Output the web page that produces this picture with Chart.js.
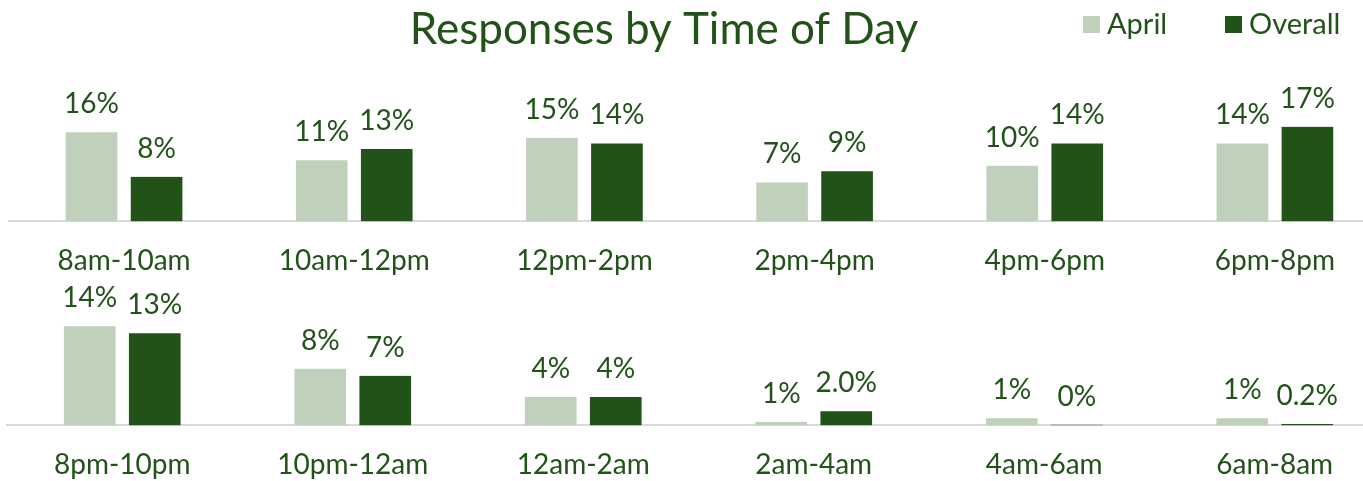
<!DOCTYPE html>
<html><head><meta charset="utf-8">
<script src="https://cdn.jsdelivr.net/npm/chart.js@4.4.0/dist/chart.umd.min.js"></script>
<style>
html,body{margin:0;padding:0;overflow:hidden;background:#fff;width:1363px;height:481px;}
canvas{position:absolute;left:0;}
#c1{top:0;}
#c2{top:285px;}
</style></head><body>
<canvas id="c1" width="1400" height="309" style="width:1400px;height:309px"></canvas>
<canvas id="c2" width="1400" height="221" style="width:1400px;height:221px"></canvas>
<script>
const chartTitle = "Responses by Time of Day";
const seriesNames = ["April", "Overall"];

const dayCategories = ["8am-10am", "10am-12pm", "12pm-2pm", "2pm-4pm", "4pm-6pm", "6pm-8pm"];
const dayApril = [16, 11, 15, 7, 10, 14];
const dayOverall = [8, 13, 14, 9, 14, 17];
const dayAprilLabels = ["16%", "11%", "15%", "7%", "10%", "14%"];
const dayOverallLabels = ["8%", "13%", "14%", "9%", "14%", "17%"];

const nightCategories = ["8pm-10pm", "10pm-12am", "12am-2am", "2am-4am", "4am-6am", "6am-8am"];
const nightApril = [14, 8, 4, 0.5, 1, 1];
const nightOverall = [13, 7, 4, 2.0, 0.1, 0.2];
const nightAprilLabels = ["14%", "8%", "4%", "1%", "1%", "1%"];
const nightOverallLabels = ["13%", "7%", "4%", "2.0%", "0%", "0.2%"];

const LIGHT = "#bfd0bb";
const DARK = "#215218";
const TEXT = "#215218";
const FONT = "Lato, 'Open Sans', sans-serif";

const valueLabelPlugin = {
  id: "valueLabels",
  afterDatasetsDraw(chart) {
    const ctx = chart.ctx;
    ctx.save();
    ctx.fillStyle = TEXT;
    ctx.font = "28px " + FONT;
    ctx.textAlign = "center";
    ctx.textBaseline = "alphabetic";
    chart.data.datasets.forEach((ds, di) => {
      const meta = chart.getDatasetMeta(di);
      meta.data.forEach((el, i) => {
        ctx.fillText(ds.valueLabels[i], el.x, el.y - 19);
      });
    });
    ctx.restore();
  }
};

const headerPlugin = {
  id: "header",
  afterDraw(chart) {
    const ctx = chart.ctx;
    ctx.save();
    ctx.fillStyle = TEXT;
    ctx.textBaseline = "alphabetic";
    ctx.font = "44px " + FONT;
    ctx.textAlign = "center";
    ctx.fillText(chartTitle, 664, 44);
    // legend
    ctx.font = "29px " + FONT;
    ctx.textAlign = "left";
    const items = [
      {x: 1083, color: chart.data.datasets[0].backgroundColor, text: chart.data.datasets[0].label},
      {x: 1225, color: chart.data.datasets[1].backgroundColor, text: chart.data.datasets[1].label}
    ];
    items.forEach(it => {
      ctx.fillStyle = it.color;
      ctx.fillRect(it.x, 16, 17, 17);
      ctx.fillStyle = TEXT;
      ctx.fillText(it.text, it.x + 24, 34);
    });
    ctx.restore();
  }
};

function makeChart(id, cats, a, b, aLab, bLab, yMax, padTop, padBottom, padLeft, withHeader) {
  return new Chart(document.getElementById(id), {
    type: "bar",
    data: {
      labels: cats,
      datasets: [
        {label: seriesNames[0], data: a, valueLabels: aLab, backgroundColor: LIGHT,
         borderColor: "rgba(0,0,0,0)", borderWidth: {left: 7, right: 7, top: 0, bottom: 0}, borderSkipped: false},
        {label: seriesNames[1], data: b, valueLabels: bLab, backgroundColor: DARK,
         borderColor: "rgba(0,0,0,0)", borderWidth: {left: 7, right: 7, top: 0, bottom: 0}, borderSkipped: false}
      ]
    },
    options: {
      responsive: false,
      animation: false,
      barThickness: 65,
      layout: {padding: {top: padTop, bottom: padBottom, left: padLeft, right: 10}},
      plugins: {legend: {display: false}, tooltip: {enabled: false}, title: {display: false}},
      scales: {
        y: {display: false, min: 0, max: yMax},
        x: {
          grid: {display: false, drawTicks: false},
          border: {display: true, color: "#d9d9d9", width: 2},
          ticks: {color: TEXT, font: {family: FONT, size: 28}, padding: 23, maxRotation: 0, autoSkip: false}
        }
      }
    },
    plugins: withHeader ? [valueLabelPlugin, headerPlugin] : [valueLabelPlugin]
  });
}

makeChart("c1", dayCategories, dayApril, dayOverall, dayAprilLabels, dayOverallLabels, 20, 110, 8, 9, true);
makeChart("c2", nightCategories, nightApril, nightOverall, nightAprilLabels, nightOverallLabels, 16, 27, 1, 7, false);
</script>
</body></html>
